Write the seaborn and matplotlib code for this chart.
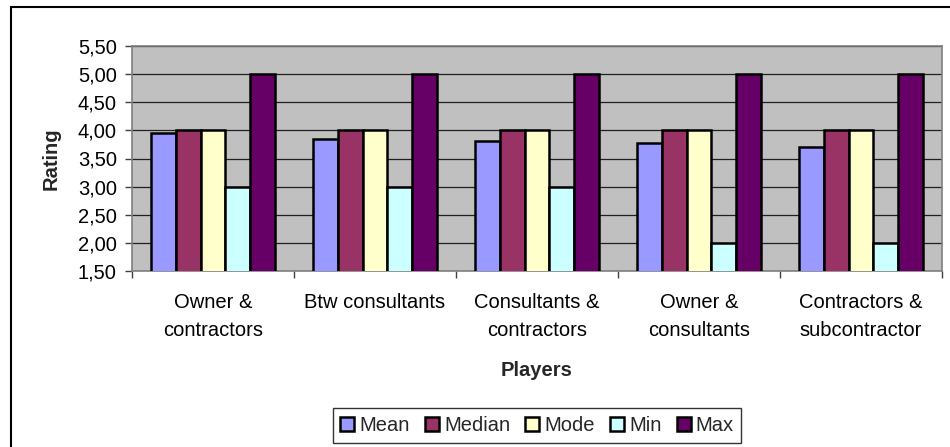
import matplotlib
matplotlib.use("Agg")
import matplotlib.pyplot as plt
from matplotlib.ticker import FuncFormatter, MultipleLocator
from matplotlib.patches import Patch, Rectangle
import seaborn as sns
import pandas as pd

categories = ["Owner &\ncontractors", "Btw consultants", "Consultants &\ncontractors",
              "Owner &\nconsultants", "Contractors &\nsubcontractor"]
stats = ["Mean", "Median", "Mode", "Min", "Max"]
mean_vals = [3.95, 3.85, 3.82, 3.77, 3.71]
median_vals = [4.0, 4.0, 4.0, 4.0, 4.0]
mode_vals = [4.0, 4.0, 4.0, 4.0, 4.0]
min_vals = [3.0, 3.0, 3.0, 2.0, 2.0]
max_vals = [5.0, 5.0, 5.0, 5.0, 5.0]
colors = ["#9999FF", "#993366", "#FFFFCC", "#CCFFFF", "#660066"]

series = {"Mean": mean_vals, "Median": median_vals, "Mode": mode_vals,
          "Min": min_vals, "Max": max_vals}
rows = []
for s in stats:
    for c, v in zip(categories, series[s]):
        rows.append({"Players": c, "Stat": s, "Rating": v})
df = pd.DataFrame(rows)

sns.set_theme(style="white")
plt.rcParams["font.family"] = ["Liberation Sans", "DejaVu Sans"]
FS = 14.5

fig = plt.figure(figsize=(9.5, 4.47), dpi=100)
ax = fig.add_axes([132/950, 1-271/447, (942-132)/950, (271-46)/447])

sns.barplot(data=df, x="Players", y="Rating", hue="Stat", hue_order=stats,
            palette=colors, order=categories, width=0.77, saturation=1,
            edgecolor="black", linewidth=1.8, ax=ax, legend=False, zorder=3)

ax.set_facecolor("#C0C0C0")
ax.set_ylim(1.5, 5.5)
ax.set_xlim(-0.5, 4.5)
ax.yaxis.set_major_locator(MultipleLocator(0.5))
ax.yaxis.set_major_formatter(FuncFormatter(lambda v, p: f"{v:.2f}".replace(".", ",")))
ax.grid(axis="y", color="#202020", linewidth=0.9, zorder=0)
ax.set_axisbelow(True)
for sp in ax.spines.values():
    sp.set_color("#808080")
    sp.set_linewidth(1.2)

ax.tick_params(axis="y", which="major", left=True, length=5, width=1, color="#404040",
               labelsize=FS, pad=6, labelcolor="black")
ax.set_xticks([0, 1, 2, 3, 4])
ax.set_xticklabels(categories, fontsize=FS, linespacing=1.6, color="black")
ax.tick_params(axis="x", which="major", bottom=False, length=0, pad=16)
ax.set_xticks([-0.5, 0.5, 1.5, 2.5, 3.5, 4.5], minor=True)
ax.tick_params(axis="x", which="minor", bottom=True, length=5, width=1, color="#404040")

ax.set_xlabel("Players", fontsize=FS, fontweight="bold", labelpad=15)
ax.set_ylabel("Rating", fontsize=FS, fontweight="bold", labelpad=12)

handles = [Patch(facecolor=c, edgecolor="black", linewidth=1.8, label=s)
           for s, c in zip(stats, colors)]
leg = fig.legend(handles=handles, loc="center", bbox_to_anchor=(537/950, 1-425.5/447),
                 ncol=5, frameon=True, fontsize=FS, handlelength=0.7, handleheight=0.7,
                 handletextpad=0.25, columnspacing=0.75, borderpad=0.38,
                 borderaxespad=0, fancybox=False, edgecolor="black")
leg.get_frame().set_linewidth(1.0)

# outer chart border (only top/left visible in the reference)
fig.patches.append(Rectangle((11/950, -0.1), 1.1, 1 - 7/447 + 0.1, transform=fig.transFigure,
                             fill=False, edgecolor="black", linewidth=1.5))

fig.savefig("out.png", dpi=100, facecolor="white")
